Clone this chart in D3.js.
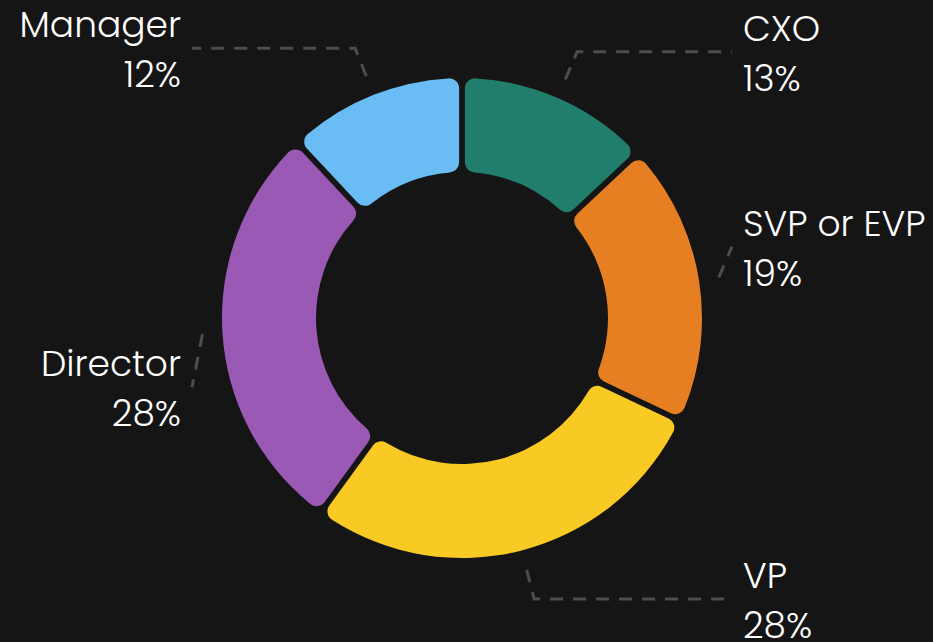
<!DOCTYPE html>
<html>
<head>
<meta charset="utf-8">
<script src="https://cdn.jsdelivr.net/npm/d3@7"></script>
<style>
  html, body { margin: 0; padding: 0; background: #151515; }
  svg { display: block; }
</style>
</head>
<body>
<svg id="chart" width="933" height="642"></svg>
<script>
// ---- data ----
const categories = ["CXO", "SVP or EVP", "VP", "Director", "Manager"];
const values = [13, 19, 28, 28, 12];
const colors = ["#217d6c", "#e67f22", "#f9ca24", "#9b59b6", "#6abdf4"];

// ---- layout ----
const W = 933, H = 642;
const cx = 462, cy = 318;
const outerR = 240, innerR = 146;
const lineStartR = 260, elbowR = 290;
const rightLabelX = 743, leftLabelX = 181, lineGap = 11;
// vertical nudges applied to labels to avoid crowding (layout only)
const labelShift = { "SVP or EVP": -26, "Director": 51 };

const svg = d3.select("#chart");
svg.append("rect").attr("width", W).attr("height", H).attr("fill", "#151515");
const g = svg.append("g").attr("transform", `translate(${cx},${cy})`);

const total = d3.sum(values);
const data = categories.map((c, i) => ({ name: c, value: values[i], color: colors[i] }));
const pie = d3.pie().sort(null).value(d => d.value);
const arcs = pie(data);

const arc = d3.arc()
  .innerRadius(innerR)
  .outerRadius(outerR)
  .cornerRadius(10)
  .padRadius(outerR)
  .padAngle(5.8 / outerR);

g.selectAll("path.slice")
  .data(arcs)
  .join("path")
  .attr("class", "slice")
  .attr("d", arc)
  .attr("fill", d => d.data.color);

const pt = (a, r) => [Math.sin(a) * r, -Math.cos(a) * r];

arcs.forEach(d => {
  const mid = (d.startAngle + d.endAngle) / 2;
  const right = Math.sin(mid) >= 0;
  const p0 = pt(mid, lineStartR);
  const p1 = pt(mid, elbowR);
  const shift = labelShift[d.data.name] || 0;
  const labelY = p1[1] + shift;
  const labelX = (right ? rightLabelX : leftLabelX) - cx;
  const endX = right ? labelX - lineGap : labelX + lineGap;
  let pts;
  if (shift !== 0) {
    pts = [p0, [endX, labelY]];
  } else {
    pts = [p0, p1, [endX, labelY]];
  }
  g.append("path")
    .attr("d", d3.line()(pts))
    .attr("fill", "none")
    .attr("stroke", "#4d4d4d")
    .attr("stroke-width", 3)
    .attr("stroke-dasharray", "13,10");

  const t = g.append("text")
    .attr("x", labelX)
    .attr("y", labelY)
    .attr("text-anchor", right ? "start" : "end")
    .attr("fill", "#ffffff")
    .style("font-family", "Poppins, Inter, 'Open Sans', sans-serif")
    .style("font-weight", 300)
    .style("font-size", "36px");
  t.append("tspan").attr("x", labelX).attr("dy", -11).text(d.data.name);
  t.append("tspan").attr("x", labelX).attr("dy", 50)
    .text(Math.round(d.data.value / total * 100) + "%");
});
</script>
</body>
</html>
